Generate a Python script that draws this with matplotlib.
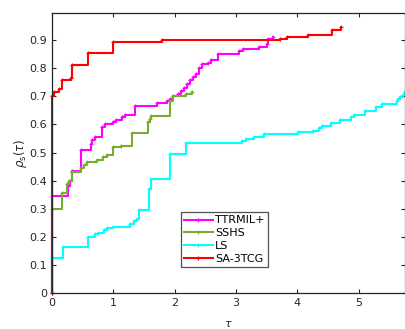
import matplotlib.pyplot as plt
import numpy as np

# performance profile data (tau, rho_s(tau))
mag_tau = [0, 0, 0.26, 0.29, 0.32, 0.48, 0.64, 0.66, 0.70, 0.81, 0.86, 0.99, 1.05, 1.15, 1.19, 1.36, 1.72, 1.87,
           1.92, 1.98, 2.05, 2.10, 2.15, 2.20, 2.25, 2.30, 2.35, 2.40, 2.45, 2.55, 2.60, 2.70, 3.05, 3.12, 3.38,
           3.50, 3.52, 3.60]
mag_rho = [0, 0.345, 0.38, 0.40, 0.435, 0.51, 0.53, 0.545, 0.555, 0.59, 0.60, 0.61, 0.615, 0.625, 0.635, 0.665,
           0.675, 0.685, 0.69, 0.70, 0.71, 0.72, 0.73, 0.745, 0.76, 0.77, 0.78, 0.80, 0.815, 0.82, 0.83, 0.85,
           0.86, 0.87, 0.875, 0.885, 0.905, 0.91]

grn_tau = [0, 0, 0.16, 0.25, 0.27, 0.32, 0.48, 0.52, 0.57, 0.73, 0.83, 0.89, 0.99, 1.13, 1.31, 1.56, 1.60, 1.62,
           1.93, 1.97, 2.19, 2.29]
grn_rho = [0, 0.30, 0.355, 0.39, 0.40, 0.43, 0.445, 0.455, 0.465, 0.475, 0.485, 0.49, 0.52, 0.525, 0.57, 0.61,
           0.62, 0.63, 0.685, 0.70, 0.71, 0.715]

cyn_tau = [0, 0, 0.18, 0.59, 0.70, 0.75, 0.85, 0.90, 1.00, 1.27, 1.33, 1.38, 1.42, 1.58, 1.62, 1.93, 2.18, 3.10,
           3.17, 3.30, 3.46, 4.01, 4.25, 4.36, 4.41, 4.55, 4.70, 4.87, 4.92, 5.11, 5.29, 5.38, 5.62, 5.65, 5.68,
           5.72, 5.76]
cyn_rho = [0, 0.125, 0.164, 0.20, 0.21, 0.215, 0.225, 0.23, 0.235, 0.245, 0.255, 0.265, 0.295, 0.37, 0.405,
           0.495, 0.534, 0.54, 0.548, 0.556, 0.566, 0.573, 0.578, 0.587, 0.594, 0.605, 0.616, 0.626, 0.633,
           0.648, 0.663, 0.672, 0.684, 0.69, 0.698, 0.705, 0.715]

red_tau = [0, 0, 0.03, 0.12, 0.17, 0.31, 0.33, 0.59, 1.00, 1.80, 3.72, 3.83, 4.17, 4.56, 4.71]
red_rho = [0, 0.70, 0.715, 0.725, 0.76, 0.765, 0.81, 0.855, 0.895, 0.90, 0.905, 0.91, 0.92, 0.935, 0.948]

labels = ['TTRMIL+', 'SSHS', 'LS', 'SA-3TCG']
colors = ['#ff00ff', '#77ac30', '#00ffff', '#ff0000']
series = [(mag_tau, mag_rho), (grn_tau, grn_rho), (cyn_tau, cyn_rho), (red_tau, red_rho)]

fig = plt.figure(figsize=(4.06, 3.29), dpi=100)
ax = fig.add_axes([0.128, 0.109, 0.870, 0.851])

for (t, r), lab, c in zip(series, labels, colors):
    ln, = ax.step(t, r, where='post', color=c, lw=1.5, marker='+', markersize=3, markeredgewidth=0.8, label=lab)
    ln.set_clip_on(False)

ax.set_xlim(0, 5.76)
ax.set_ylim(0, 0.996)
ax.set_xticks(np.arange(0, 6, 1))
ax.set_yticks(np.arange(0, 1.0, 0.1))
ax.set_yticklabels(['0'] + ['%.1f' % v for v in np.arange(0.1, 1.0, 0.1)])
ax.tick_params(direction='in', top=True, right=True, labelsize=8, colors='#262626', length=3, width=0.8)
for s in ax.spines.values():
    s.set_linewidth(0.9)
    s.set_color('#262626')

ax.set_xlabel(r'$\tau$', fontsize=8, color='#262626', labelpad=8)
ax.set_ylabel(r'$\rho_{\rm s}(\tau)$', fontsize=8.5, color='#262626', labelpad=0)

leg = ax.legend(loc='lower left', bbox_to_anchor=(0.364, 0.093), fontsize=8, frameon=True, fancybox=False,
                borderpad=0.3, labelspacing=0.25, handlelength=2.6, handletextpad=0.2, borderaxespad=0)
leg.get_frame().set_edgecolor('#262626')
leg.get_frame().set_linewidth(0.9)

fig.savefig('out.png', dpi=100)
